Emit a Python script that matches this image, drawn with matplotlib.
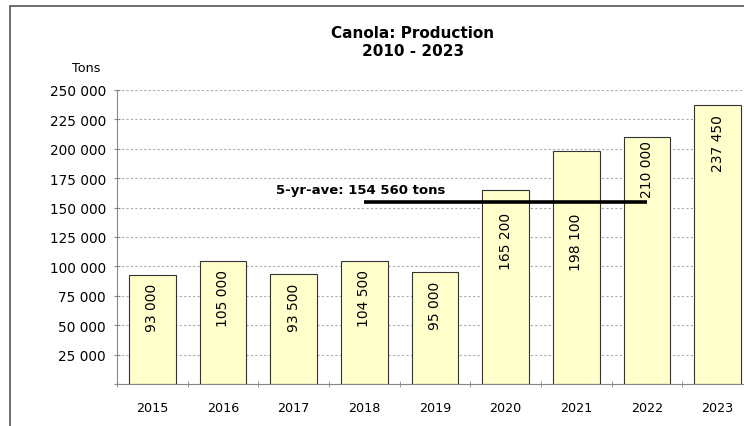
import matplotlib.pyplot as plt
import matplotlib.patches as patches
import numpy as np

years = ['2015', '2016', '2017', '2018', '2019', '2020', '2021', '2022', '2023']
production = [93000, 105000, 93500, 104500, 95000, 165200, 198100, 210000, 237450]
bar_labels = ['93 000', '105 000', '93 500', '104 500', '95 000', '165 200', '198 100', '210 000', '237 450']
avg_value = 154560
avg_label = '5-yr-ave: 154 560 tons'
yticks = np.arange(0, 250001, 25000)

# how far (points) each value label sits below its bar top, as in the source
label_drop = [6, 6, 6, 6, 6, 16, 44, 2, 7]

W, H = 744, 427
fig = plt.figure(figsize=(W / 100, H / 100), dpi=100)
fig.patch.set_facecolor('white')

# outer frame (cut off on the right and bottom)
fig.add_artist(patches.Rectangle((10 / W, -0.1), 2.0, (H - 7) / H + 0.1, transform=fig.transFigure,
                                 fill=False, edgecolor='#555555', linewidth=1.2))

left, right = 117, 753
bottom, top = 385, 91
ax = fig.add_axes([left / W, (H - bottom) / H, (right - left) / W, (bottom - top) / H])

x = np.arange(len(years))
ax.bar(x, production, width=0.66, color='#FFFFCC', edgecolor='#333333', linewidth=0.8, zorder=2)
ax.set_xlim(-0.5, len(years) - 0.5)
ax.set_ylim(0, 250000)

for xi, v, lab, d in zip(x, production, bar_labels, label_drop):
    ax.annotate(lab, (xi, v), xytext=(0, -d), textcoords='offset points', rotation=90,
                ha='center', va='top', fontsize=10, zorder=4)

# 5-year average line
ax.plot([3, 7], [avg_value, avg_value], color='black', linewidth=2.6, zorder=3, solid_capstyle='butt')
ax.text(2.95, avg_value + 5500, avg_label, fontsize=9.5, fontweight='bold', ha='center', va='bottom', zorder=4)

ax.set_yticks(yticks)
ax.set_yticklabels(['' if t == 0 else f'{t:,}'.replace(',', ' ') for t in yticks], fontsize=9.8)
ax.set_xticks(x)
ax.set_xticklabels(years, fontsize=9.2)
ax.tick_params(axis='x', length=0, pad=12)
ax.set_xticks(np.arange(-0.5, len(years), 1), minor=True)
ax.tick_params(axis='x', which='minor', length=4, color='#888888', direction='inout')
ax.tick_params(axis='y', length=4, color='#888888', direction='inout', pad=6)

ax.yaxis.grid(True, linestyle=(0, (2, 2)), color='#AAAAAA', linewidth=0.8, zorder=0)
ax.set_axisbelow(True)
for s in ['top', 'right']:
    ax.spines[s].set_visible(False)
ax.spines['left'].set_color('#888888')
ax.spines['bottom'].set_color('#888888')

fig.text(86 / W, 1 - 68 / H, 'Tons', fontsize=9.2, ha='center', va='center')
fig.text(413 / W, 1 - 42 / H, 'Canola: Production\n2010 - 2023', fontsize=11, fontweight='bold',
         ha='center', va='center', linespacing=1.25)

fig.savefig('out.png', dpi=100)
